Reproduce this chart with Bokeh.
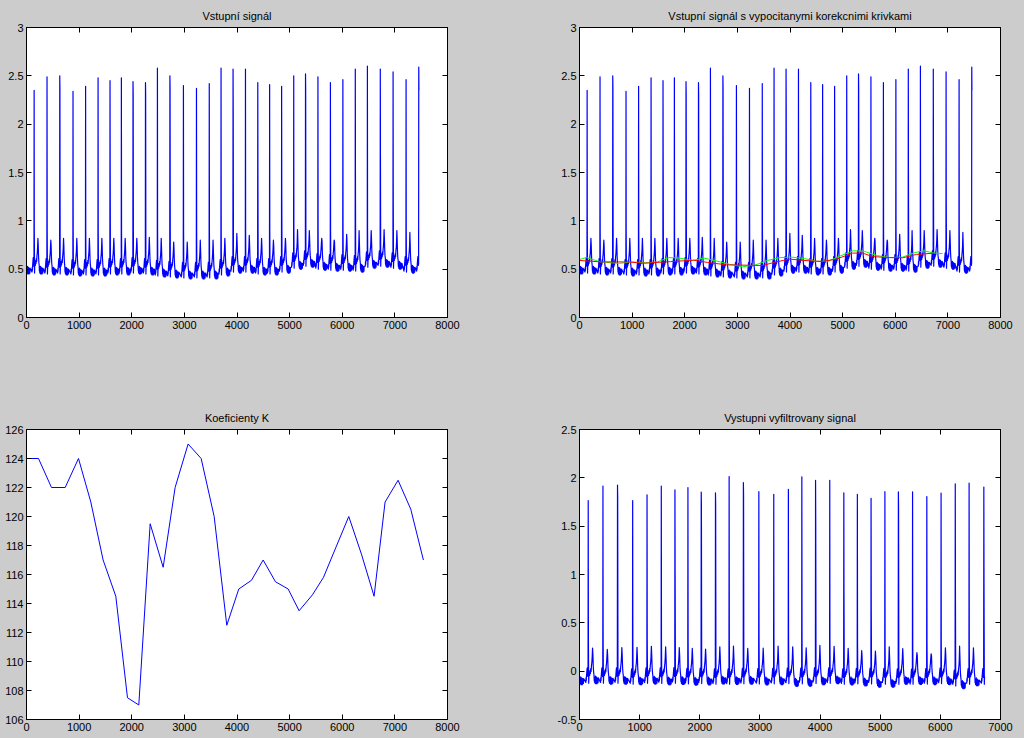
import numpy as np
from bokeh.plotting import figure
from bokeh.models import Range1d, FixedTicker, LinearAxis, CustomJSTickFormatter
from bokeh.layouts import column, row
from bokeh.embed import file_html
from bokeh.resources import INLINE

# ---------------- data ----------------
# R-peak positions (samples) of the input ECG signal
beat_x = [145, 390, 632, 884, 1123, 1360, 1587, 1803, 2024, 2261, 2488, 2725, 2982, 3230,
          3473, 3697, 3925, 4161, 4395, 4620, 4848, 5078, 5302, 5538, 5775, 6012, 6248, 6478,
          6723, 6966, 7213, 7454]
# R-peak height of the input signal
r_peak = [2.35, 2.49, 2.50, 2.34, 2.39, 2.48, 2.45, 2.48, 2.44, 2.43, 2.58, 2.50, 2.40, 2.37,
          2.42, 2.58, 2.57, 2.57, 2.43, 2.41, 2.39, 2.50, 2.52, 2.49, 2.43, 2.46, 2.57, 2.60,
          2.57, 2.54, 2.46, 2.59]
# sample right after the R peak (visible as a darker segment on some spikes)
r_second = [0.90, 0.90, 2.38, 0.90, 0.90, 0.90, 1.58, 0.90, 2.31, 2.31, 0.90, 2.38, 0.90, 0.90,
            0.90, 0.90, 2.15, 0.90, 1.38, 0.90, 1.25, 0.90, 2.35, 0.90, 0.90, 0.90, 1.38, 0.90,
            1.58, 1.25, 0.90, 2.35]
# baseline level of every beat
base_lvl = [0.51, 0.50, 0.50, 0.49, 0.49, 0.49, 0.50, 0.50, 0.51, 0.50, 0.48, 0.47, 0.46, 0.46,
            0.46, 0.49, 0.52, 0.52, 0.50, 0.50, 0.52, 0.56, 0.58, 0.55, 0.54, 0.54, 0.53, 0.57,
            0.58, 0.56, 0.52, 0.52]
# T-wave peak height of every beat
t_peak = [0.82, 0.80, 0.82, 0.82, 0.82, 0.82, 0.82, 0.82, 0.82, 0.83, 0.82, 0.78, 0.78, 0.80,
          0.80, 0.82, 0.87, 0.85, 0.82, 0.80, 0.82, 0.91, 0.90, 0.82, 0.80, 0.86, 0.90, 0.90,
          0.91, 0.90, 0.88, 0.60]
# beat shape (offset from R peak, level relative to baseline)
pre_off = [-40, -36, -32, -28, -22, -17, -12, -7, -3]
pre_rel = [-0.04, 0.01, -0.02, 0.03, 0.08, 0.11, 0.05, 0.02, 0.04]
post_off = [8, 12, 18, 24, 30, 36, 42, 48, 54, 60, 66, 72, 78, 84, 90,
            96, 100, 104, 108, 112, 116, 120, 124, 128, 132, 136, 140, 144, 148, 152, 156, 160,
            164, 168]
post_rel = [-0.05, 0.03, 0.06, 0.03, 0.08, 0.05, 0.10, 0.07, 0.13, 0.16, 0.22, None, 0.24, 0.12,
            0.06,
            0.03, -0.03, 0.01, -0.05, 0.00, -0.04, 0.02, -0.06, -0.01, -0.05, 0.01, -0.06, -0.02,
            -0.06, 0.00, -0.05, -0.01, -0.05, 0.00]
signal_end = 7458

# correction curves (top right)
red_x = [0, 400, 900, 1220, 1730, 2170, 2430, 2790, 3190, 3480, 3700, 3990, 4370, 4620, 4880,
         5190, 5380, 5570, 5890, 6140, 6400, 6740]
red_y = [0.59, 0.575, 0.575, 0.562, 0.578, 0.593, 0.57, 0.545, 0.541, 0.538, 0.57, 0.604, 0.586,
         0.58, 0.604, 0.666, 0.666, 0.63, 0.62, 0.617, 0.652, 0.666]
green_x = [0, 130, 400, 760, 1000, 1250, 1480, 1700, 1900, 2150, 2360, 2600, 2850, 3100, 3350,
           3570, 3810, 4020, 4275, 4500, 4740, 4970, 5200, 5410, 5660, 5900, 6140, 6360, 6550,
           6700, 6900]
green_y = [0.60, 0.62, 0.575, 0.56, 0.575, 0.565, 0.575, 0.62, 0.615, 0.59, 0.615, 0.585, 0.55,
           0.525, 0.545, 0.59, 0.62, 0.625, 0.61, 0.58, 0.585, 0.64, 0.69, 0.685, 0.64, 0.62,
           0.625, 0.67, 0.69, 0.67, 0.66]

# coefficients K (bottom left)
k_x = [0, 228, 475, 735, 988, 1222, 1456, 1697, 1919, 2134, 2350, 2597, 2824, 3071, 3319, 3566,
       3806, 4034, 4275, 4497, 4731, 4972, 5180, 5434, 5643, 5883, 6124, 6365, 6605, 6814, 7061,
       7302, 7542]
k_y = [124, 124, 122, 122, 124, 121, 117, 114.5, 107.5, 107, 119.5, 116.5, 122, 125, 124, 120,
       112.5, 115, 115.6, 117, 115.5, 115, 113.5, 114.6, 115.8, 117.9, 120, 117.4, 114.5, 121,
       122.5, 120.5, 117]

titles = ["Vstupní signál", "Vstupní signál s vypocitanymi korekcnimi krivkami",
          "Koeficienty K", "Vystupni vyfiltrovany signal"]
x_ticks_8 = [0, 1000, 2000, 3000, 4000, 5000, 6000, 7000, 8000]
x_ticks_7 = [0, 1000, 2000, 3000, 4000, 5000, 6000, 7000]
y_ticks_sig = [0, 0.5, 1, 1.5, 2, 2.5, 3]
y_ticks_k = [106, 108, 110, 112, 114, 116, 118, 120, 122, 124, 126]
y_ticks_out = [-0.5, 0, 0.5, 1, 1.5, 2, 2.5]

# ---------------- build the signal polyline from the beat data ----------------
sx, sy = [], []
first_prev = beat_x[0] - (beat_x[1] - beat_x[0])
for off, rel in zip(post_off, post_rel):
    if rel is not None and first_prev + off >= 0:
        sx.append(first_prev + off)
        sy.append(base_lvl[0] + rel)
for bx, rp, r2, b, tp in zip(beat_x, r_peak, r_second, base_lvl, t_peak):
    for off, rel in zip(pre_off, pre_rel):
        sx.append(bx + off); sy.append(b + rel)
    sx.append(bx); sy.append(rp)
    sx.append(bx + 3); sy.append(r2)
    for off, rel in zip(post_off, post_rel):
        sx.append(bx + off)
        sy.append(tp if rel is None else b + rel)
sx = np.array(sx, dtype=float)
sy = np.array(sy, dtype=float)
keep = sx <= signal_end
sx, sy = sx[keep], sy[keep]

# filtered output = input minus red correction curve
fk = sx <= red_x[-1]
fx = sx[fk]
fy = sy[fk] - np.interp(fx, red_x, red_y)

# ---------------- figures ----------------
FONT = "Liberation Sans"
BG = "#cccccc"
FW, FH = 421, 290
fmt = CustomJSTickFormatter(code="return tick.toString();")
blank = CustomJSTickFormatter(code="return '';")


def make_fig(title, xr, yr, xt, yt, left, right, top, bottom):
    p = figure(frame_width=FW, frame_height=FH, x_range=Range1d(*xr), y_range=Range1d(*yr),
               output_backend="svg", toolbar_location=None,
               min_border_left=left, min_border_right=right,
               min_border_top=top, min_border_bottom=bottom,
               x_axis_type=None, y_axis_type=None, title=title)
    p.background_fill_color = "white"
    p.border_fill_color = BG
    p.outline_line_color = "black"
    p.outline_line_width = 1
    p.title.align = "center"
    p.title.text_font = FONT
    p.title.text_font_size = "11px"
    p.title.text_font_style = "normal"
    p.title.text_color = "black"
    p.title.standoff = 12
    p.grid.visible = False
    for loc, ticks, show in (("below", xt, True), ("left", yt, True),
                             ("above", xt, False), ("right", yt, False)):
        ax = LinearAxis(ticker=FixedTicker(ticks=ticks), formatter=fmt if show else blank)
        ax.major_tick_in = 5
        ax.major_tick_out = 0
        ax.minor_tick_in = 0
        ax.minor_tick_out = 0
        ax.axis_line_color = "black"
        ax.major_tick_line_color = "black"
        ax.major_label_text_font = FONT
        ax.major_label_text_color = "black"
        if show:
            ax.major_label_text_font_size = "11px"
            ax.major_label_standoff = 3
        else:
            ax.major_label_text_font_size = "0px"
            ax.major_label_standoff = 0
        p.add_layout(ax, loc)
    return p


LW = 1.2
p1 = make_fig(titles[0], (0, 8000), (0, 3), x_ticks_8, y_ticks_sig, 26, 72, 27, 72)
p1.line(sx, sy, line_color="#0000ff", line_width=LW, line_join="round")

p2 = make_fig(titles[1], (0, 8000), (0, 3), x_ticks_8, y_ticks_sig, 60, 24, 27, 72)
p2.line(sx, sy, line_color="#0000ff", line_width=LW, line_join="round")
p2.line(green_x, green_y, line_color="#00ff00", line_width=1)
p2.line(red_x, red_y, line_color="#ff0000", line_width=1)

p3 = make_fig(titles[2], (0, 8000), (106, 126), x_ticks_8, y_ticks_k, 26, 72, 40, 19)
p3.line(k_x, k_y, line_color="#0000ff", line_width=1)

p4 = make_fig(titles[3], (0, 7000), (-0.5, 2.5), x_ticks_7, y_ticks_out, 60, 24, 40, 19)
p4.line(fx, fy, line_color="#0000ff", line_width=LW, line_join="round")

bgs = {"background-color": BG}
layout = column(row(p1, p2, styles=bgs), row(p3, p4, styles=bgs), styles=bgs)
open("out.html", "w").write(file_html(layout, INLINE))
